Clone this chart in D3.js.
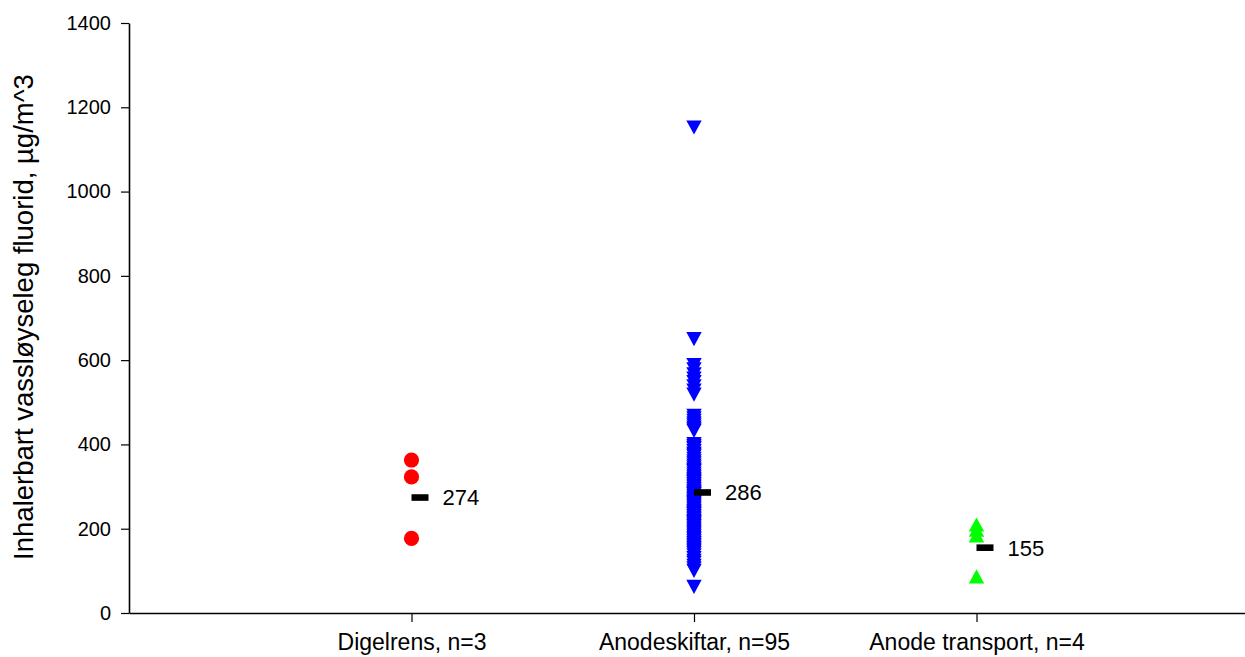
<!DOCTYPE html>
<html>
<head>
<meta charset="utf-8">
<script src="https://cdn.jsdelivr.net/npm/d3@7"></script>
<style>
  html, body { margin: 0; padding: 0; background: #fff; overflow: hidden; }
  svg { display: block; font-family: 'Liberation Sans', Arial, sans-serif; }
</style>
</head>
<body>
<svg id="chart" width="1245" height="657"></svg>
<script>
'use strict';

// groups on the x axis
var categories = ['Digelrens, n=3', 'Anodeskiftar, n=95', 'Anode transport, n=4'];

// measured values, µg/m^3
var digelrensValues = [363, 323, 177];

var anodeskiftarValues = [
  1152, 650,
  588, 578, 566, 556, 548, 538, 528, 518,
  468, 462, 456, 450, 445, 440, 436, 432,
  401, 396, 392, 390, 384, 378, 375, 372, 366, 360, 355, 350,
  345, 340, 338, 336, 331, 326, 322, 318, 314, 312, 310, 306, 302,
  298, 294, 290, 286, 284, 282, 278, 274, 270, 266, 262, 262, 258, 254, 250,
  246, 242, 238, 236, 234, 230, 226, 222, 218, 215, 214, 210, 206, 202,
  198, 194, 190, 186, 182, 178, 174, 170, 166, 162, 158, 154, 150,
  146, 142, 137, 130, 124, 119, 112, 106, 100,
  62
];

var anodeTransportValues = [210, 198, 184, 87];

// geometric means shown next to each group
var meanValues = [274, 286, 155];

var yTicks = [0, 200, 400, 600, 800, 1000, 1200, 1400];

var svg = d3.select('#chart');

var x = d3.scaleLinear().domain([0, 4]).range([129, 1259]);
var y = d3.scaleLinear().domain([0, 1400]).range([613, 23]);

// axes
var yAxis = svg.append('g')
  .attr('transform', 'translate(129,0)')
  .call(d3.axisLeft(y).tickValues(yTicks).tickSize(8).tickSizeOuter(0).tickPadding(10)
    .tickFormat(d3.format('d')));

var xAxis = svg.append('g')
  .attr('transform', 'translate(0,613)')
  .call(d3.axisBottom(x).tickValues([1, 2, 3]).tickSize(9).tickSizeOuter(0)
    .tickFormat(function(d) { return categories[d - 1]; }));

[yAxis, xAxis].forEach(function(ax) {
  ax.attr('font-size', null).attr('font-family', null);
  ax.select('.domain').attr('stroke', '#000').attr('stroke-width', 1.6);
  ax.selectAll('.tick line').attr('stroke', '#000').attr('stroke-width', 1.2);
  ax.selectAll('.tick text').attr('fill', '#000');
});
yAxis.selectAll('.tick text').attr('font-size', 20);
xAxis.selectAll('.tick text').attr('font-size', 23).attr('y', 37).attr('dy', null);

svg.append('text')
  .attr('transform', 'translate(33,317) rotate(-90)')
  .attr('text-anchor', 'middle')
  .attr('font-size', 27.5)
  .attr('fill', '#000')
  .text('Inhalerbart vassløyseleg fluorid, µg/m^3');

// symbols
svg.append('g').selectAll('circle')
  .data(digelrensValues)
  .enter().append('circle')
  .attr('cx', x(1))
  .attr('cy', function(d) { return y(d); })
  .attr('r', 7.6)
  .attr('fill', '#ff0000');

var triDown = 'M-7.7,-7.1L7.7,-7.1L0,7.1Z';
var triUp = 'M-7.7,7.1L7.7,7.1L0,-7.1Z';

svg.append('g').selectAll('path')
  .data(anodeskiftarValues)
  .enter().append('path')
  .attr('d', triDown)
  .attr('transform', function(d) { return 'translate(' + x(2) + ',' + y(d) + ')'; })
  .attr('fill', '#0000ff');

svg.append('g').selectAll('path')
  .data(anodeTransportValues)
  .enter().append('path')
  .attr('d', triUp)
  .attr('transform', function(d) { return 'translate(' + x(3) + ',' + y(d) + ')'; })
  .attr('fill', '#00ff00');

// mean markers and labels
var means = svg.append('g').selectAll('g')
  .data(meanValues)
  .enter().append('g');

means.append('rect')
  .attr('x', function(d, i) { return x(i + 1); })
  .attr('y', function(d) { return y(d) - 3.3; })
  .attr('width', 17)
  .attr('height', 6.6)
  .attr('fill', '#000');

means.append('text')
  .attr('x', function(d, i) { return x(i + 1) + 31; })
  .attr('y', function(d) { return y(d); })
  .attr('dy', '0.36em')
  .attr('font-size', 22)
  .attr('fill', '#000')
  .text(function(d) { return d; });
</script>
</body>
</html>
